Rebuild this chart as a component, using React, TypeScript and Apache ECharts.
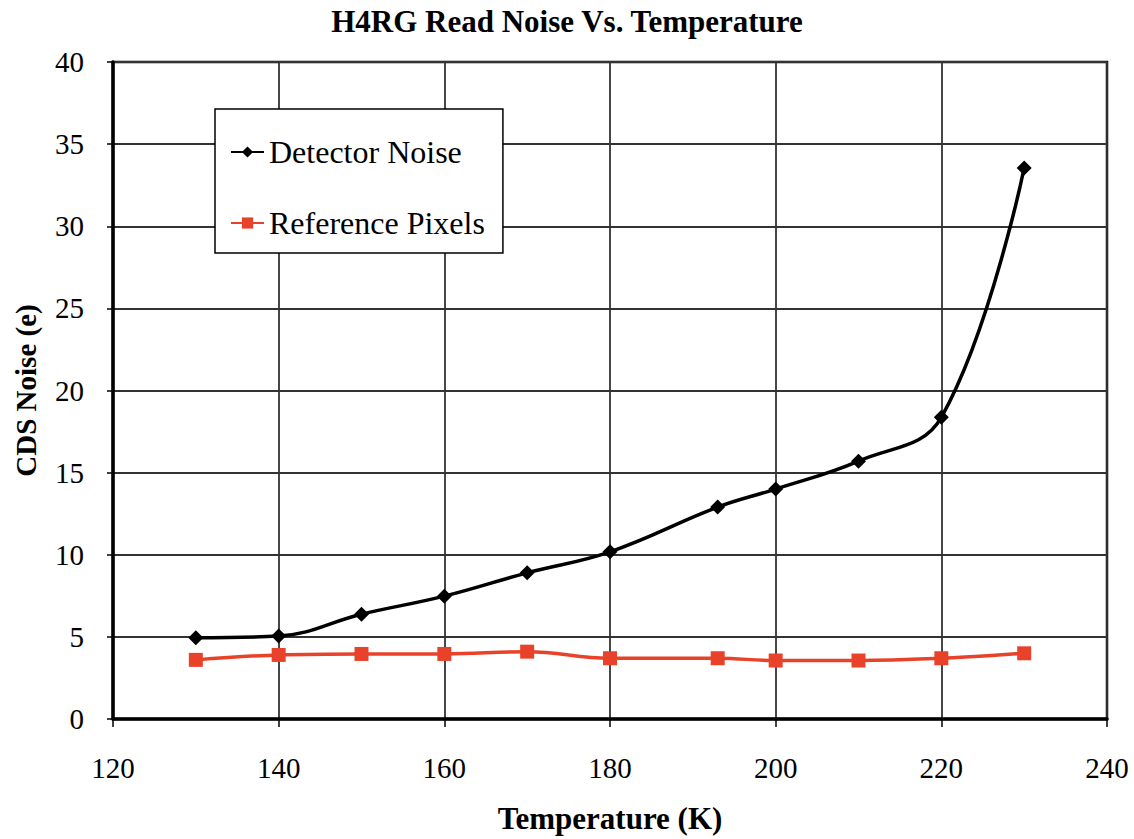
import React, { useEffect, useRef } from "react";
import * as echarts from "echarts";

const temperatures = [130, 140, 150, 160, 170, 180, 193, 200, 210, 220, 230];
const detectorNoise = [4.95, 5.05, 6.38, 7.48, 8.9, 10.18, 12.9, 14.0, 15.7, 18.37, 33.55];
const referencePixels = [3.6, 3.9, 3.96, 3.96, 4.1, 3.7, 3.7, 3.56, 3.56, 3.7, 4.0];

const seriesNames = ["Detector Noise", "Reference Pixels"];
const titleText = "H4RG Read Noise Vs. Temperature";
const xAxisName = "Temperature (K)";
const yAxisName = "CDS Noise (e)";

const FONT = "'Liberation Serif', 'Times New Roman', serif";

export default function App() {
  const ref = useRef<HTMLDivElement>(null);
  useEffect(() => {
    if (!ref.current) return;
    const chart = echarts.init(ref.current, null, { renderer: "svg" });
    const pair = (vals: number[]) => temperatures.map((t, i) => [t, vals[i]]);
    chart.setOption({
      animation: false,
      backgroundColor: "#ffffff",
      title: {
        text: titleText,
        left: "center",
        top: 1,
        textStyle: { fontFamily: FONT, fontWeight: "bold", fontSize: 31, color: "#000" },
      },
      legend: {
        orient: "vertical",
        left: 215,
        top: 109,
        data: seriesNames,
        borderColor: "#000",
        borderWidth: 1.5,
        backgroundColor: "#fff",
        padding: [27, 18, 14, 15],
        itemGap: 39,
        itemWidth: 33,
        itemHeight: 14,
        textStyle: { fontFamily: FONT, fontSize: 32, color: "#000" },
      },
      grid: {
        left: 113,
        right: 27,
        top: 62,
        bottom: 120,
        containLabel: false,
        show: true,
        borderColor: "#000",
        borderWidth: 2.5,
        backgroundColor: "transparent",
      },
      xAxis: {
        type: "value",
        min: 120,
        max: 240,
        interval: 20,
        name: xAxisName,
        nameLocation: "middle",
        nameGap: 84,
        nameTextStyle: { fontFamily: FONT, fontWeight: "bold", fontSize: 31, color: "#000" },
        axisLine: { show: true, onZero: false, lineStyle: { color: "#000", width: 3.5 } },
        axisTick: { show: true, inside: false, length: 8, lineStyle: { color: "#000", width: 1.5 } },
        axisLabel: { margin: 34, fontFamily: FONT, fontSize: 29, color: "#000" },
        splitLine: { show: true, lineStyle: { color: "#333", width: 1.8 } },
      },
      yAxis: {
        type: "value",
        min: 0,
        max: 40,
        interval: 5,
        name: yAxisName,
        nameLocation: "middle",
        nameGap: 73,
        nameTextStyle: { fontFamily: FONT, fontWeight: "bold", fontSize: 29, color: "#000" },
        axisLine: { show: true, lineStyle: { color: "#000", width: 3.5 } },
        axisTick: { show: true, inside: false, length: 6, lineStyle: { color: "#000", width: 1.5 } },
        axisLabel: { margin: 29, fontFamily: FONT, fontSize: 29, color: "#000" },
        splitLine: { show: true, lineStyle: { color: "#333", width: 1.8 } },
      },
      series: [
        {
          name: seriesNames[0],
          type: "line",
          data: pair(detectorNoise),
          smooth: 0.4,
          symbol: "diamond",
          symbolSize: 15,
          itemStyle: { color: "#000" },
          lineStyle: { color: "#000", width: 3.5 },
          z: 3,
        },
        {
          name: seriesNames[1],
          type: "line",
          data: pair(referencePixels),
          smooth: 0.4,
          symbol: "rect",
          symbolSize: 14,
          itemStyle: { color: "#e8432a" },
          lineStyle: { color: "#e8432a", width: 3.5 },
          z: 2,
        },
      ],
    });
    return () => chart.dispose();
  }, []);
  return (
    <div
      ref={ref}
      style={{ position: "absolute", left: 0, top: 0, width: 1134, height: 839 }}
    />
  );
}
